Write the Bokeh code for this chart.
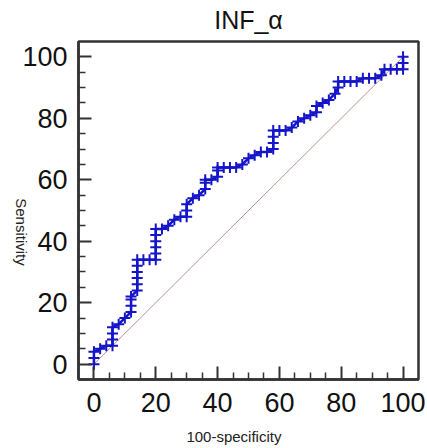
import math
from bokeh.plotting import figure
from bokeh.layouts import row
from bokeh.models import Range1d, FixedTicker
from bokeh.core.properties import value
from bokeh.embed import file_html
from bokeh.resources import INLINE

title_text = "INF_α"
x_label = "100-specificity"
y_label = "Sensitivity"
major_ticks = [0, 20, 40, 60, 80, 100]
minor_ticks = [5, 10, 15, 25, 30, 35, 45, 50, 55, 65, 70, 75, 85, 90, 95]

fpr = [0, 0, 0,
       2, 4, 6,
       6, 6, 6,
       8, 10, 12,
       12, 12, 12,
       14, 14, 14, 14, 14, 14,
       16, 18, 20,
       20, 20, 20, 20, 20,
       22, 24, 26, 28,
       30, 30, 30,
       32, 34,
       36, 36, 36,
       38, 40, 40, 40,
       42, 44, 46, 48,
       50, 52, 54, 56,
       58, 58, 58, 58,
       60, 62, 64, 66, 68, 70,
       72, 72, 74, 76, 78,
       79, 79,
       81, 83, 85, 87, 89, 91, 93,
       94, 96, 98, 100, 100, 100]
tpr = [0, 2, 4,
       5, 6, 6,
       8, 10, 12,
       13, 15, 17,
       19, 21, 22,
       24, 26, 28, 30, 32, 34,
       34, 34, 34,
       36, 38, 40, 42, 44,
       44, 45, 47, 48,
       48, 50, 52,
       54, 55,
       57, 59, 60,
       60, 61, 63, 64,
       64, 64, 64, 65,
       67, 68, 69, 69,
       70, 72, 74, 76,
       76, 76, 77, 79, 80, 81,
       82, 84, 85, 86, 88,
       90, 92,
       92, 92, 92, 93, 93, 93, 94,
       96, 96, 96, 96, 98, 100]
diag_x = [0, 100]
diag_y = [0, 100]

FONT = "Liberation Sans"
DARK = "#333333"
LW = 30      # width of the strip holding the vertical axis title
OVERLAP = 12
H = 448

# narrow transparent strip carrying the "Sensitivity" title (reads top to bottom)
q = figure(width=LW, height=H, x_range=Range1d(0, LW), y_range=Range1d(0, H),
           output_backend="svg", toolbar_location=None,
           x_axis_location=None, y_axis_location=None, min_border=0)
q.xgrid.visible = False
q.ygrid.visible = False
q.outline_line_color = None
q.background_fill_color = None
q.border_fill_color = None
q.margin = (0, -OVERLAP, 0, 0)
q.text(x=[21], y=[195.5], text=[y_label], angle=-math.pi / 2,
       text_align="center", text_baseline="middle",
       text_font=value(FONT), text_font_size=value("15px"), text_color="#222222")

p = figure(frame_width=340, frame_height=338,
           x_range=Range1d(-5, 105), y_range=Range1d(-5, 105),
           output_backend="svg", toolbar_location=None,
           min_border_left=60, min_border_right=9,
           min_border_top=41, min_border_bottom=69)
p.title.text = title_text
p.title.align = "center"
p.title.vertical_align = "top"
p.title.text_font = FONT
p.title.text_font_size = "25px"
p.title.text_font_style = "normal"
p.title.text_color = "#111111"
p.title.standoff = 11

p.background_fill_color = "white"
p.border_fill_color = None
p.outline_line_color = DARK
p.outline_line_width = 2.5
p.xgrid.visible = False
p.ygrid.visible = False

for ax in (p.xaxis[0], p.yaxis[0]):
    ax.ticker = FixedTicker(ticks=major_ticks, minor_ticks=minor_ticks)
    ax.axis_line_color = DARK
    ax.axis_line_width = 2.5
    ax.major_tick_line_color = DARK
    ax.major_tick_line_width = 2
    ax.minor_tick_line_color = DARK
    ax.minor_tick_line_width = 1.5
    ax.major_tick_in = 13
    ax.major_tick_out = 0
    ax.minor_tick_in = 7
    ax.minor_tick_out = 0
    ax.major_label_text_font = FONT
    ax.major_label_text_font_size = "27px"
    ax.major_label_text_color = "#111111"
    ax.axis_label_text_font = FONT
    ax.axis_label_text_font_size = "15px"
    ax.axis_label_text_font_style = "normal"
    ax.axis_label_text_color = "#222222"
p.xaxis.major_label_standoff = 13
p.yaxis.major_label_standoff = 11

# trailing no-break spaces shift the centred label slightly left, as in the original
p.xaxis.axis_label = x_label + "\u00a0" * 7
p.xaxis.axis_label_standoff = 13

p.line(diag_x, diag_y, line_color="#c09090", line_width=1)
p.line(fpr, tpr, line_color="#1414c8", line_width=2.5)
p.scatter(fpr, tpr, marker="cross", size=11, line_color="#1414c8", line_width=2)

layout = row(q, p, spacing=0)
open("out.html", "w").write(file_html(layout, INLINE))
